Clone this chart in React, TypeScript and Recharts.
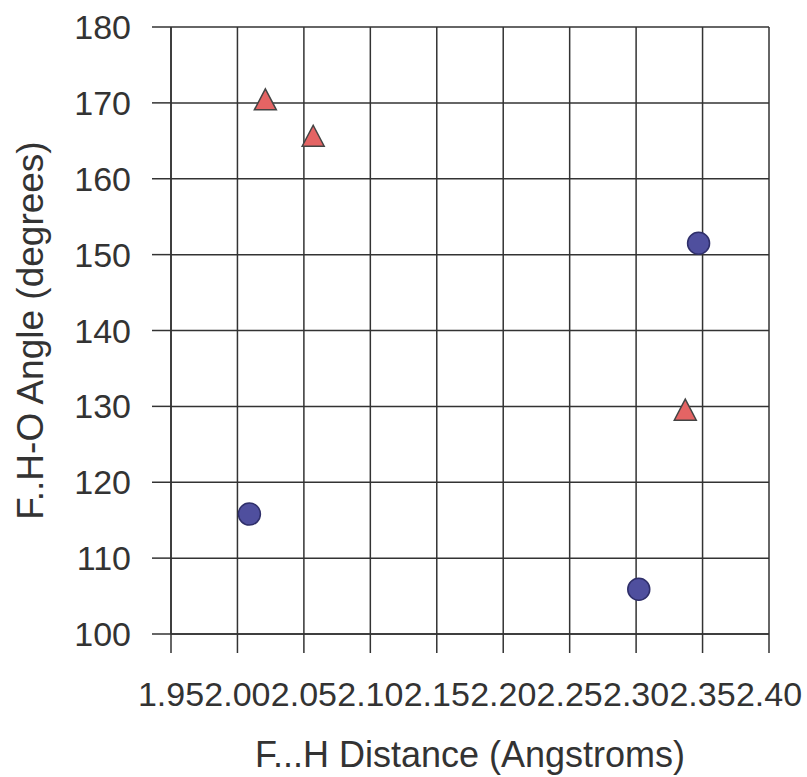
import { ScatterChart, Scatter, XAxis, YAxis, CartesianGrid } from "recharts";

// ---- data ----

const xTicks = [1.95, 2.0, 2.05, 2.1, 2.15, 2.2, 2.25, 2.3, 2.35, 2.4];
const yTicks = [100, 110, 120, 130, 140, 150, 160, 170, 180];

const circleDistances = [2.009, 2.347, 2.302];
const circleAngles = [115.8, 151.5, 105.9];

const triangleDistances = [2.021, 2.057, 2.337];
const triangleAngles = [170.4, 165.6, 129.5];

const circlePoints = circleDistances.map((x, i) => ({ x, y: circleAngles[i] }));
const trianglePoints = triangleDistances.map((x, i) => ({ x, y: triangleAngles[i] }));

const FONT = "'Liberation Sans', Arial, sans-serif";
const INK = "#333";

function CircleMark(props: any) {
  const { cx, cy } = props;
  return <circle cx={cx} cy={cy} r={11} fill="#4f4f9e" stroke="#2f2f6a" strokeWidth={1.5} />;
}

function TriangleMark(props: any) {
  const { cx, cy } = props;
  const pts = `${cx},${cy - 11} ${cx - 11},${cy + 10} ${cx + 11},${cy + 10}`;
  return <polygon points={pts} fill="#e46464" stroke="#444" strokeWidth={1.5} />;
}

export default function App() {
  return (
    <div style={{ position: "absolute", left: 0, top: 0, background: "#fff" }}>
      <ScatterChart
        width={807}
        height={777}
        margin={{ top: 27, right: 38, left: 0, bottom: 0 }}
        style={{ fontFamily: FONT }}
      >
        <CartesianGrid stroke={INK} strokeWidth={1.5} />
        <XAxis
          type="number"
          dataKey="x"
          domain={[1.95, 2.4]}
          ticks={xTicks}
          interval={0}
          height={143}
          tickSize={19}
          tickMargin={29}
          tickFormatter={(v: number) => v.toFixed(2)}
          stroke={INK}
          axisLine={{ stroke: INK, strokeWidth: 1.5 }}
          tickLine={{ stroke: INK, strokeWidth: 1.5 }}
          tick={{ fontSize: 34, fill: INK, fontFamily: FONT }}
          label={{
            value: "F...H Distance (Angstroms)",
            position: "insideBottom",
            offset: 10,
            fontSize: 36,
            fill: INK,
            fontFamily: FONT,
          }}
        />
        <YAxis
          type="number"
          dataKey="y"
          domain={[100, 180]}
          ticks={yTicks}
          interval={0}
          width={171}
          tickSize={19}
          tickMargin={21}
          stroke={INK}
          axisLine={{ stroke: INK, strokeWidth: 1.5 }}
          tickLine={{ stroke: INK, strokeWidth: 1.5 }}
          tick={{ fontSize: 34, fill: INK, fontFamily: FONT }}
          label={{
            value: "F..H-O Angle (degrees)",
            angle: -90,
            position: "center",
            dx: -56,
            fontSize: 37,
            fill: INK,
            fontFamily: FONT,
          }}
        />
        <Scatter data={circlePoints} shape={CircleMark} isAnimationActive={false} />
        <Scatter data={trianglePoints} shape={TriangleMark} isAnimationActive={false} />
      </ScatterChart>
    </div>
  );
}
